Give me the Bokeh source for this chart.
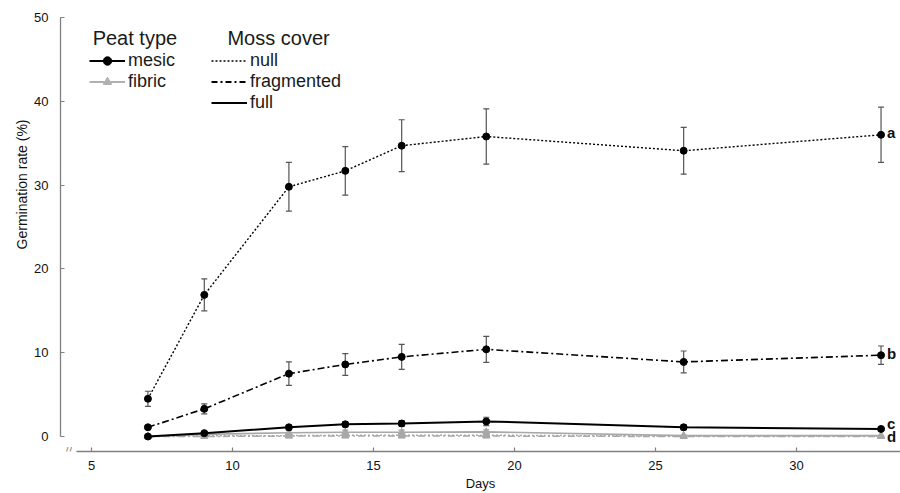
import numpy as np
from bokeh.plotting import figure
from bokeh.models import (ColumnDataSource, Whisker, TeeHead, Legend, LegendItem,
                          Label, Range1d, SingleIntervalTicker, Title)
from bokeh.embed import file_html
from bokeh.resources import INLINE
from bokeh.core.properties import value

# ---------------- data ----------------
days = [7, 9, 12, 14, 16, 19, 26, 33]

mesic_null = [4.5, 16.9, 29.8, 31.7, 34.7, 35.8, 34.1, 36.0]
mesic_null_err = [0.9, 1.9, 2.9, 2.9, 3.1, 3.3, 2.8, 3.3]
mesic_frag = [1.1, 3.3, 7.5, 8.6, 9.5, 10.4, 8.9, 9.7]
mesic_frag_err = [0.2, 0.6, 1.4, 1.3, 1.5, 1.55, 1.3, 1.1]
mesic_full = [0.0, 0.4, 1.1, 1.45, 1.55, 1.8, 1.1, 0.9]
mesic_full_err = [0.05, 0.15, 0.25, 0.3, 0.35, 0.5, 0.3, 0.2]

fibric_null = [0.0, 0.1, 0.1, 0.15, 0.15, 0.15, 0.05, 0.05]
fibric_null_err = [0.0, 0.1, 0.15, 0.15, 0.15, 0.15, 0.05, 0.05]
fibric_frag = [0.0, 0.0, 0.05, 0.05, 0.05, 0.05, 0.0, 0.0]
fibric_frag_err = [0.0, 0.05, 0.05, 0.05, 0.05, 0.05, 0.0, 0.0]
fibric_full = [0.0, 0.25, 0.45, 0.5, 0.5, 0.55, 0.1, 0.1]
fibric_full_err = [0.0, 0.15, 0.25, 0.25, 0.25, 0.25, 0.05, 0.05]

group_letters = ["a", "b", "c", "d"]

x_ticks_interval = 5
y_ticks_interval = 10

FONT = "Liberation Sans"
BLACK = "#000000"
GREY = "#a8a8a8"
AXIS = "#808080"

p = figure(width=900, height=493, output_backend="svg", toolbar_location=None,
           x_range=Range1d(3.90, 33.69), y_range=Range1d(-1.79, 50),
           min_border_left=60, min_border_right=0, min_border_top=17,
           min_border_bottom=42)
p.outline_line_color = None
p.xgrid.visible = False
p.ygrid.visible = False
p.background_fill_color = "white"
p.border_fill_color = "white"

# axes
p.xaxis.ticker = SingleIntervalTicker(interval=x_ticks_interval, num_minor_ticks=0)
p.yaxis.ticker = SingleIntervalTicker(interval=y_ticks_interval, num_minor_ticks=0)
p.yaxis.bounds = (0, 50)
p.xaxis.bounds = (4.45, 33.69)
for ax in (p.xaxis, p.yaxis):
    ax.axis_line_color = AXIS
    ax.axis_line_width = 1.3
    ax.major_tick_line_color = AXIS
    ax.major_tick_line_width = 1.2
    ax.major_tick_in = 4
    ax.major_tick_out = 0
    ax.minor_tick_line_color = None
    ax.major_label_text_font = FONT
    ax.major_label_text_font_size = "13px"
    ax.major_label_text_color = "#111111"
p.xaxis.major_label_standoff = 9
p.yaxis.major_label_standoff = 12
p.xaxis.axis_label = "Days"
p.xaxis.axis_label_standoff = 3
p.xaxis.axis_label_text_font = FONT
p.xaxis.axis_label_text_font_size = "13px"
p.xaxis.axis_label_text_font_style = "normal"
p.xaxis.axis_label_text_color = "#111111"

ytitle = Title(text="Germination rate (%)", align="right", offset=102,
               vertical_align="middle", standoff=2, text_font=FONT,
               text_font_size="14px", text_font_style="normal", text_color="#111111")
p.add_layout(ytitle, "left")


def series(vals, errs, color, dash, width, marker, msize):
    up = [v + e for v, e in zip(vals, errs)]
    lo = [v - e for v, e in zip(vals, errs)]
    src = ColumnDataSource(dict(x=days, y=vals, up=up, lo=lo))
    wcol = "#555555" if color == BLACK else "#9a9a9a"
    w = Whisker(base="x", upper="up", lower="lo", source=src, dimension="height",
                line_color=wcol, line_width=1.2,
                upper_head=TeeHead(size=6, line_color=wcol, line_width=1.2),
                lower_head=TeeHead(size=6, line_color=wcol, line_width=1.2))
    p.add_layout(w)
    p.line("x", "y", source=src, line_color=color, line_width=width, line_dash=dash)
    p.scatter("x", "y", source=src, marker=marker, size=msize,
              fill_color=color, line_color=color)


# fibric (grey) first
series(fibric_frag, fibric_frag_err, GREY, "7 3 2 3", 1.5, "triangle", 7)
series(fibric_null, fibric_null_err, GREY, "2 2", 1.5, "triangle", 7)
series(fibric_full, fibric_full_err, GREY, "solid", 1.6, "triangle", 7)
# mesic (black)
series(mesic_null, mesic_null_err, BLACK, "2 2", 1.4, "circle", 7)
series(mesic_frag, mesic_frag_err, BLACK, "7 3 2 3", 1.6, "circle", 7)
series(mesic_full, mesic_full_err, BLACK, "solid", 2.0, "circle", 7)

# group letters at right
lsrc = ColumnDataSource(dict(
    x=[days[-1]] * 4,
    y=[mesic_null[-1], mesic_frag[-1], mesic_full[-1], fibric_full[-1]],
    t=group_letters,
    yo=[-2, -2, -5, 1],
))
p.text(x="x", y="y", text="t", source=lsrc, x_offset=6, y_offset="yo",
       text_font=value(FONT), text_font_style="bold", text_font_size="15px",
       text_baseline="middle", text_align="left", text_color="#111111")

# legends (dummy renderers)
nan = [np.nan]
r_m_line = p.line(nan, nan, line_color=BLACK, line_width=2)
r_m_pt = p.scatter(nan, nan, marker="circle", size=10, fill_color=BLACK, line_color=BLACK)
r_f_line = p.line(nan, nan, line_color="#b0b0b0", line_width=2)
r_f_pt = p.scatter(nan, nan, marker="triangle", size=10, fill_color="#b0b0b0", line_color="#b0b0b0")
r_null = p.line(nan, nan, line_color=BLACK, line_width=1.6, line_dash="2 2")
r_frag = p.line(nan, nan, line_color=BLACK, line_width=1.8, line_dash="6 3 2 3")
r_full = p.line(nan, nan, line_color=BLACK, line_width=2)


def style_legend(lg):
    lg.border_line_color = None
    lg.background_fill_alpha = 0
    lg.padding = 0
    lg.margin = 0
    lg.spacing = 0
    lg.glyph_width = 36
    lg.glyph_height = 21
    lg.label_height = 21
    lg.label_standoff = 3
    lg.label_text_font = FONT
    lg.label_text_font_size = "18px"
    lg.label_text_color = "#1a1a1a"


leg1 = Legend(items=[LegendItem(label="mesic", renderers=[r_m_line, r_m_pt]),
                     LegendItem(label="fibric", renderers=[r_f_line, r_f_pt])],
              location=(29, 359))
leg2 = Legend(items=[LegendItem(label="null", renderers=[r_null]),
                     LegendItem(label="fragmented", renderers=[r_frag]),
                     LegendItem(label="full", renderers=[r_full])],
              location=(151, 338))
style_legend(leg1)
style_legend(leg2)
p.add_layout(leg1)
p.add_layout(leg2)

for txt, xx in (("Peat type", 5.04), ("Moss cover", 9.82)):
    p.add_layout(Label(x=xx, y=47.5, text=txt, text_font=FONT, text_font_size="20px",
                       text_baseline="middle", text_align="left", text_color="#1a1a1a"))

# axis break mark (sits on the gap left in the x axis line)
p.add_layout(Label(x=4.18, y=-1.79, text="//", text_font=FONT, text_font_size="12px",
                   text_align="center", text_baseline="alphabetic", text_color=AXIS))

open("out.html", "w").write(file_html(p, INLINE))
